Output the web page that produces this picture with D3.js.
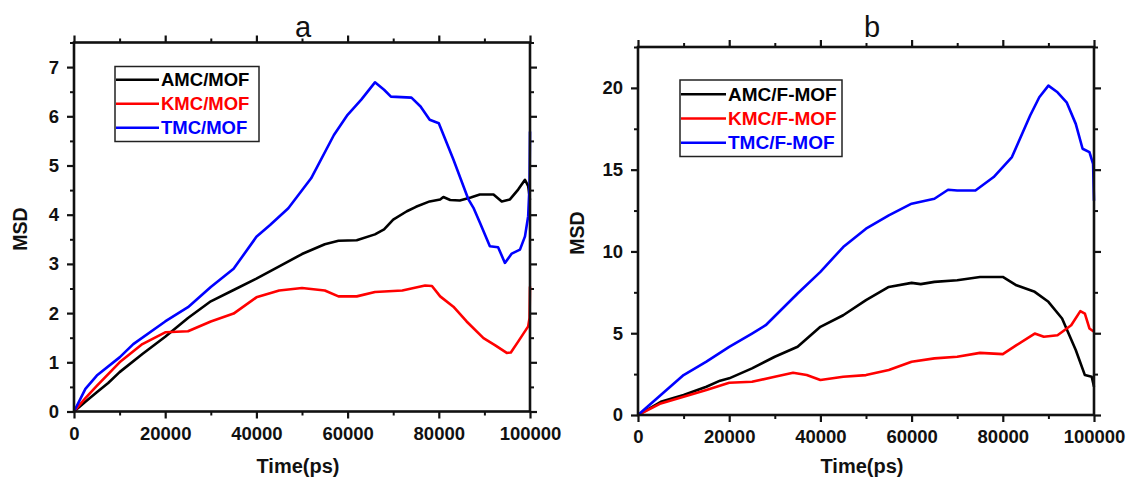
<!DOCTYPE html>
<html>
<head>
<meta charset="utf-8">
<script src="https://cdn.jsdelivr.net/npm/d3@7"></script>
<style>
  html, body { margin: 0; padding: 0; background: #fff; }
  svg { display: block; }
  text { font-family: "Liberation Sans", Arial, sans-serif; fill: #111; }
</style>
</head>
<body>
<svg id="chart" width="1128" height="482"></svg>
<script>
// ---- Panel a: MSD of drug carriers in MOF ----
const timeTickValues = [0, 20000, 40000, 60000, 80000, 100000];
const timeMinorTicks = [10000, 30000, 50000, 70000, 90000];

const aYTicks = [0, 1, 2, 3, 4, 5, 6, 7];
const aYMinor = [0.5, 1.5, 2.5, 3.5, 4.5, 5.5, 6.5, 7.5];

const aLabels = ["AMC/MOF", "KMC/MOF", "TMC/MOF"];

const aAmcTime = [0, 2500, 5000, 7500, 10000, 15000, 20000, 25000, 30000, 35000, 40000, 45000, 50000, 55000, 58000, 62000, 66000, 68000, 70000, 73000, 75000, 78000, 80300, 81000, 82500, 84600, 87000, 89000, 92000, 93800, 95600, 97400, 98900, 99600, 100000];
const aAmcMsd  = [0, 0.2, 0.39, 0.58, 0.8, 1.17, 1.52, 1.9, 2.24, 2.47, 2.7, 2.95, 3.2, 3.4, 3.47, 3.48, 3.6, 3.7, 3.9, 4.07, 4.16, 4.27, 4.31, 4.36, 4.3, 4.29, 4.35, 4.41, 4.41, 4.27, 4.31, 4.51, 4.71, 4.58, 4.3];

const aKmcTime = [0, 2500, 5000, 10000, 15000, 20000, 25000, 30000, 35000, 40000, 45000, 50000, 55000, 58000, 62000, 66000, 72000, 77000, 78500, 80300, 83200, 86100, 89800, 92300, 94900, 95800, 97400, 99600, 99900, 100000];
const aKmcMsd  = [0, 0.27, 0.52, 1.0, 1.37, 1.61, 1.63, 1.83, 1.99, 2.32, 2.46, 2.51, 2.46, 2.34, 2.34, 2.43, 2.46, 2.56, 2.55, 2.34, 2.13, 1.83, 1.49, 1.35, 1.19, 1.2, 1.42, 1.73, 1.9, 2.54];

const aTmcTime = [0, 2500, 5000, 10000, 13000, 20000, 25000, 30000, 35000, 40000, 43000, 47000, 52000, 57000, 60000, 63000, 66000, 68000, 69500, 74000, 76000, 78000, 80000, 83200, 86500, 87600, 89000, 91200, 93000, 94500, 96000, 97800, 98900, 99600, 99900, 100000];
const aTmcMsd  = [0, 0.46, 0.73, 1.1, 1.37, 1.83, 2.12, 2.53, 2.9, 3.55, 3.79, 4.13, 4.74, 5.62, 6.03, 6.34, 6.69, 6.54, 6.4, 6.38, 6.2, 5.93, 5.86, 5.12, 4.31, 4.14, 3.84, 3.36, 3.34, 3.02, 3.21, 3.29, 3.56, 3.97, 4.6, 5.69];

// ---- Panel b: MSD of drug carriers in F-MOF ----
const bYTicks = [0, 5, 10, 15, 20];
const bYMinor = [2.5, 7.5, 12.5, 17.5, 22.5];

const bLabels = ["AMC/F-MOF", "KMC/F-MOF", "TMC/F-MOF"];

const bAmcTime = [0, 5000, 10000, 15000, 18000, 20000, 25000, 30000, 35000, 40000, 45000, 50000, 55000, 60000, 62000, 65000, 70000, 75000, 80000, 83000, 87000, 90000, 93000, 96000, 98000, 99500, 100000];
const bAmcMsd  = [0, 0.81, 1.22, 1.73, 2.1, 2.24, 2.85, 3.56, 4.17, 5.39, 6.1, 7.02, 7.83, 8.08, 8.0, 8.14, 8.24, 8.44, 8.44, 7.93, 7.53, 6.92, 5.9, 3.97, 2.44, 2.34, 1.73];

const bKmcTime = [0, 5000, 10000, 15000, 20000, 25000, 30000, 34000, 37000, 40000, 45000, 50000, 55000, 60000, 65000, 70000, 75000, 80000, 83000, 87000, 89000, 92000, 95000, 97000, 98000, 99000, 100000];
const bKmcMsd  = [0, 0.71, 1.12, 1.53, 1.97, 2.03, 2.34, 2.58, 2.44, 2.14, 2.34, 2.44, 2.75, 3.26, 3.46, 3.56, 3.8, 3.72, 4.27, 4.98, 4.78, 4.88, 5.49, 6.35, 6.2, 5.29, 5.09];

const bTmcTime = [0, 5000, 10000, 15000, 20000, 25000, 28000, 35000, 40000, 45000, 50000, 55000, 60000, 65000, 68000, 70000, 74000, 78000, 82000, 86000, 88000, 90000, 92000, 94000, 96000, 97500, 99000, 99800, 100000];
const bTmcMsd  = [0, 1.22, 2.44, 3.26, 4.17, 4.98, 5.49, 7.43, 8.75, 10.27, 11.39, 12.21, 12.92, 13.22, 13.77, 13.73, 13.73, 14.55, 15.77, 18.31, 19.43, 20.14, 19.73, 19.12, 17.8, 16.28, 16.07, 15.36, 13.1];

const seriesColors = ["#000000", "#ff0000", "#0000ff"];

const svg = d3.select("#chart");

function zip(t, v) { return t.map((x, i) => ({ t: x, v: v[i] })); }

function drawPanel(p) {
  const g = svg.append("g");
  const x = d3.scaleLinear().domain([0, 100000]).range([p.left, p.right]);
  const y = d3.scaleLinear().domain(p.yDomain).range([p.bottom, p.top]);

  // minor and major ticks on all four sides, pointing outwards
  const sides = [
    { axis: d3.axisBottom(x), at: `translate(0,${p.bottom})`, major: timeTickValues, minor: timeMinorTicks, labels: true },
    { axis: d3.axisTop(x), at: `translate(0,${p.top})`, major: timeTickValues, minor: timeMinorTicks, labels: false },
    { axis: d3.axisLeft(y), at: `translate(${p.left},0)`, major: p.yTicks, minor: p.yMinor, labels: true },
    { axis: d3.axisRight(y), at: `translate(${p.right},0)`, major: p.yTicks, minor: p.yMinor, labels: false }
  ];
  sides.forEach(s => {
    const minorAxis = s.axis.scale().copy ? s.axis : s.axis;
    g.append("g").attr("transform", s.at)
      .call(s.axis.tickValues(s.minor).tickSize(4).tickFormat(""))
      .call(a => a.select(".domain").remove())
      .call(a => a.selectAll("line").attr("stroke", "#111").attr("stroke-width", 2));
    const ax = g.append("g").attr("transform", s.at)
      .call(s.axis.tickValues(s.major).tickSize(7).tickPadding(s.labels ? 8 : 0)
        .tickFormat(s.labels ? d3.format("d") : ""))
      .call(a => a.select(".domain").remove())
      .call(a => a.selectAll("line").attr("stroke", "#111").attr("stroke-width", 2.2));
    ax.selectAll("text")
      .style("font-family", '"Liberation Sans", Arial, sans-serif')
      .style("font-weight", "bold")
      .style("font-size", "18.5px")
      .attr("fill", "#111");
  });

  // series lines
  const line = d3.line().x(d => x(d.t)).y(d => y(d.v));
  p.series.forEach((s, i) => {
    g.append("path")
      .datum(s)
      .attr("fill", "none")
      .attr("stroke", seriesColors[i])
      .attr("stroke-width", 2.6)
      .attr("stroke-linejoin", "round")
      .attr("d", line);
  });

  // plot frame
  g.append("rect")
    .attr("x", p.left).attr("y", p.top)
    .attr("width", p.right - p.left).attr("height", p.bottom - p.top)
    .attr("fill", "none").attr("stroke", "#111").attr("stroke-width", 2.6);

  // panel title
  g.append("text")
    .attr("x", p.titleX).attr("y", 37)
    .attr("text-anchor", "middle")
    .style("font-family", '"Liberation Sans", Arial, sans-serif')
    .style("font-size", "29px")
    .text(p.title);

  // axis titles
  g.append("text")
    .attr("x", p.xLabelX).attr("y", 473)
    .attr("text-anchor", "middle")
    .style("font-weight", "bold").style("font-size", "20px")
    .text("Time(ps)");
  g.append("text")
    .attr("transform", `translate(${p.yLabelX},${(p.top + p.bottom) / 2 + 2}) rotate(-90)`)
    .attr("text-anchor", "middle")
    .style("font-weight", "bold").style("font-size", "19.5px")
    .text("MSD");

  // legend
  const L = p.legend;
  g.append("rect")
    .attr("x", L.x0).attr("y", L.y0)
    .attr("width", L.x1 - L.x0).attr("height", L.y1 - L.y0)
    .attr("fill", "#fff").attr("stroke", "#222").attr("stroke-width", 1.5);
  p.labels.forEach((lab, i) => {
    const ly = L.rowY + i * L.step;
    g.append("line")
      .attr("x1", L.x0 + 1).attr("x2", L.lineEnd)
      .attr("y1", ly).attr("y2", ly)
      .attr("stroke", seriesColors[i]).attr("stroke-width", 2.6);
    g.append("text")
      .attr("x", L.lineEnd + 2).attr("y", ly + 6.5)
      .style("font-weight", "bold").style("font-size", L.fontSize)
      .style("fill", seriesColors[i])
      .text(lab);
  });
}

drawPanel({
  left: 74, right: 530, top: 42.5, bottom: 411.5,
  yDomain: [0, 7.5], yTicks: aYTicks, yMinor: aYMinor,
  title: "a", titleX: 303, xLabelX: 298, yLabelX: 26.5,
  labels: aLabels,
  series: [zip(aAmcTime, aAmcMsd), zip(aKmcTime, aKmcMsd), zip(aTmcTime, aTmcMsd)],
  legend: { x0: 115, x1: 259, y0: 66.5, y1: 141.5, lineEnd: 159, rowY: 79.7, step: 24, fontSize: "18.5px" }
});

drawPanel({
  left: 638, right: 1094, top: 47, bottom: 415,
  yDomain: [0, 22.5], yTicks: bYTicks, yMinor: bYMinor,
  title: "b", titleX: 872, xLabelX: 862, yLabelX: 583.5,
  labels: bLabels,
  series: [zip(bAmcTime, bAmcMsd), zip(bKmcTime, bKmcMsd), zip(bTmcTime, bTmcMsd)],
  legend: { x0: 680, x1: 842, y0: 80, y1: 156.5, lineEnd: 726, rowY: 94.3, step: 24.2, fontSize: "19px" }
});
</script>
</body>
</html>
